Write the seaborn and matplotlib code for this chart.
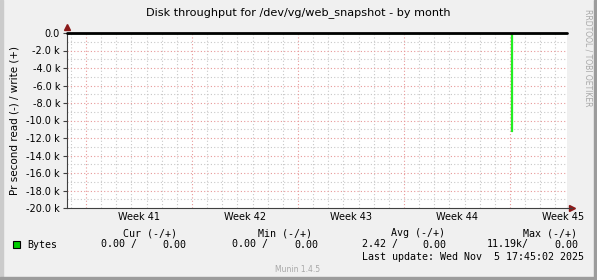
import matplotlib
matplotlib.use("Agg")
import matplotlib.pyplot as plt
import seaborn as sns
import pandas as pd
import numpy as np

# ---- data (days relative to Mon 6 Oct 2025, bytes per second) ----
read_days = [-1.25, 28.10, 28.12, 31.77]
read_bytes = [0.0, 11190.0, 0.0, 0.0]          # read plotted as negative
write_bytes = [0.0, 0.0, 0.0, 0.0]

week_labels = ["Week 41", "Week 42", "Week 43", "Week 44", "Week 45"]
week_starts = [0, 7, 14, 21, 28]
yticks = [0, -2000, -4000, -6000, -8000, -10000, -12000, -14000, -16000, -18000, -20000]
ytick_labels = ["0.0", "-2.0 k", "-4.0 k", "-6.0 k", "-8.0 k", "-10.0 k", "-12.0 k",
                "-14.0 k", "-16.0 k", "-18.0 k", "-20.0 k"]

legend_name = "Bytes"
cur_vals = ("0.00", "0.00")
min_vals = ("0.00", "0.00")
avg_vals = ("2.42", "0.00")
max_vals = ("11.19k", "0.00")
last_update = "Last update: Wed Nov  5 17:45:02 2025"
title = "Disk throughput for /dev/vg/web_snapshot - by month"

df = pd.DataFrame({"day": read_days, "read": [-v for v in read_bytes], "write": write_bytes})

sns.set_style("white")
plt.rcParams["font.family"] = ["DejaVu Sans"]
plt.rcParams["text.color"] = "black"

W, H = 597, 280
fig = plt.figure(figsize=(W / 100, H / 100), dpi=100)
fig.patch.set_facecolor("#F0F0F0")

def fx(px):
    return px / W

def fy(py):
    return 1 - py / H

# outer 3D border
fig.patches.append(plt.Rectangle((0, 0), fx(3), 1, transform=fig.transFigure, color="#CBCBCB", zorder=0))
fig.patches.append(plt.Rectangle((fx(W - 3), 0), fx(3), 1, transform=fig.transFigure, color="#9C9C9C", zorder=0))
fig.patches.append(plt.Rectangle((0, 0), 1, 3 / H, transform=fig.transFigure, color="#9C9C9C", zorder=0))

x0, x1, y0, y1 = 67, 567, 33, 208
ax = fig.add_axes([fx(x0), fy(y1), fx(x1 - x0), (y1 - y0) / H])
ax.set_facecolor("white")

xmin, xmax = -1.255, 31.77
ymin, ymax = -20000, 0
ax.set_xlim(xmin, xmax)
ax.set_ylim(ymin, ymax)

# grid
minor_grey = "#C8C8C8"
major_red = "#E89898"
dash = (0, (1, 2))
for d in np.arange(-1, 32, 1):
    if d % 7 != 0:
        ax.axvline(d, color=minor_grey, lw=0.8, ls=dash, zorder=1)
for v in np.arange(-19000, 0, 2000):
    ax.axhline(v, color=minor_grey, lw=0.8, ls=dash, zorder=1)
for d in week_starts:
    ax.axvline(d, color=major_red, lw=0.8, ls=dash, zorder=1)
for v in yticks[1:-1]:
    ax.axhline(v, color=major_red, lw=0.8, ls=dash, zorder=1)

# data
sns.lineplot(data=df, x="day", y="read", ax=ax, color="#22EE22", lw=0.9,
             drawstyle="steps-post", zorder=3, legend=False)
sns.lineplot(data=df, x="day", y="write", ax=ax, color="#00CC00", lw=0.9,
             drawstyle="steps-post", zorder=3, legend=False)
ax.axhline(0, color="black", lw=2.0, zorder=4, clip_on=False)

# axes
for s in ["top", "right"]:
    ax.spines[s].set_visible(False)
for s in ["left", "bottom"]:
    ax.spines[s].set_color("#404040")
    ax.spines[s].set_linewidth(0.8)

ax.set_yticks(yticks)
ax.set_yticklabels(ytick_labels)
ax.tick_params(axis="y", length=3, width=0.8, color="#404040", labelsize=7, pad=2,
               direction="out", left=True, labelcolor="black")
ax.set_xticks([s + 3.5 for s in week_starts])
ax.set_xticklabels(week_labels)
ax.tick_params(axis="x", length=0, labelsize=7, pad=3, labelcolor="black")
ax.set_xlabel("")
ax.set_ylabel("Pr second read (-) / write (+)", fontsize=7.5, labelpad=5, color="black")

# arrows
arrow_col = "#8B1A1A"
ax.plot([xmin], [ymax + 700], marker="^", color=arrow_col, ms=4, clip_on=False, zorder=5)
ax.plot([xmax + 0.33], [ymin], marker=">", color=arrow_col, ms=4, clip_on=False, zorder=5)
ax.plot([xmax, xmax + 0.3], [ymin, ymin], color="#404040", lw=0.8, clip_on=False, zorder=5)

# title and side text
fig.text(fx(298), fy(13), title, ha="center", va="center", fontsize=8.1, color="#000000")
fig.text(fx(588), fy(58), "RRDTOOL / TOBI OETIKER", rotation=270, ha="center", va="center",
         fontsize=5.5, color="#A8A8A8")

# legend
mono = {"family": "DejaVu Sans Mono", "size": 7.2, "color": "black"}
fig.patches.append(plt.Rectangle((fx(13), fy(248)), fx(7), 7 / H, transform=fig.transFigure,
                                 facecolor="#00CC00", edgecolor="black", lw=0.8, zorder=3))
fig.text(fx(27), fy(244.5), legend_name, ha="left", va="center", **mono)

headers = [("Cur (-/+)", 123), ("Min (-/+)", 258), ("Avg (-/+)", 391), ("Max (-/+)", 523)]
for txt, px in headers:
    fig.text(fx(px), fy(233), txt, ha="left", va="center", **mono)

cols = [(cur_vals, 101, 186), (min_vals, 232, 318), (avg_vals, 362, 446), (max_vals, 487, 578)]
for (a, b), px_left, px_right in cols:
    fig.text(fx(px_left), fy(244.5), f"{a:>4}" + ("/" if len(a) > 4 else " /"), ha="left", va="center", **mono)
    fig.text(fx(px_right), fy(244.5), b, ha="right", va="center", **mono)

fig.text(fx(362), fy(256.5), last_update, ha="left", va="center", **mono)
fig.text(fx(275), fy(269), "Munin 1.4.5", ha="left", va="center", fontsize=5.5, color="#A8A8A8")

fig.savefig("out.png", dpi=100, facecolor=fig.get_facecolor())
